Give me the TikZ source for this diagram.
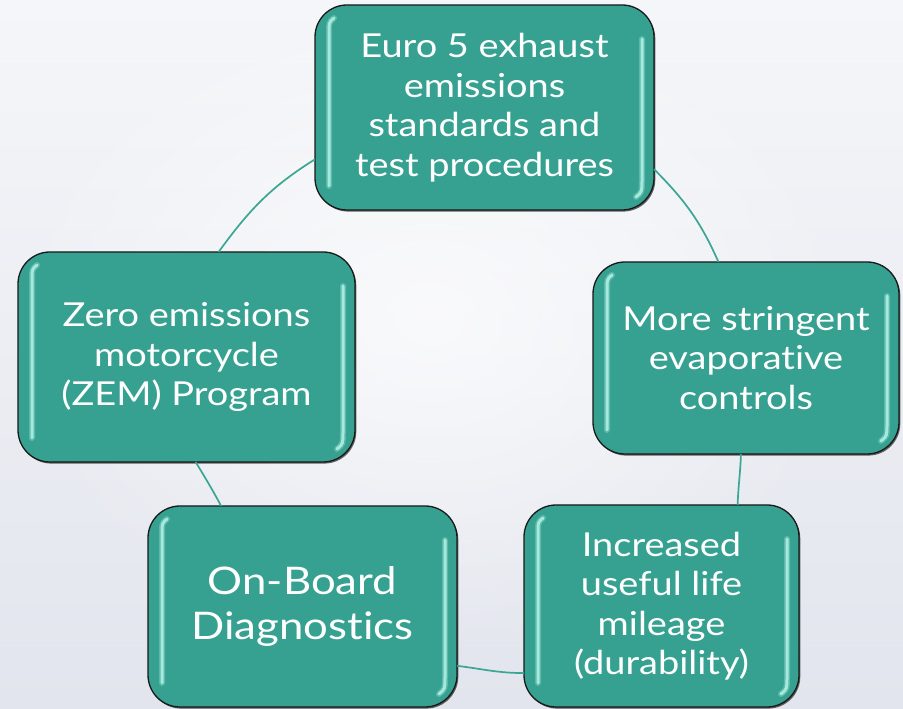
\documentclass[tikz,border=0pt]{standalone}
\usepackage{fontspec}
\setmainfont{Lato}[FakeStretch=1.15, Ligatures=NoCommon]
\usetikzlibrary{shadows,fadings}
\definecolor{tealbox}{RGB}{55,161,145}
\definecolor{ringline}{RGB}{58,166,148}
\definecolor{bgtop}{RGB}{245,246,249}
\definecolor{bgbot}{RGB}{226,229,237}
\definecolor{gloss}{RGB}{178,242,230}
\tikzfading[name=softglow, inner color=transparent!0, outer color=transparent!100]
\begin{document}
\begin{tikzpicture}[x=1pt,y=1pt,
  box/.style={rectangle, rounded corners=32pt, fill=tealbox, draw=black!90,
    line width=1.3pt, text=white, align=center, inner sep=0pt, outer sep=0pt,
    font=\fontsize{33}{39.5}\selectfont,
    drop shadow={shadow xshift=1.3pt, shadow yshift=-1.6pt, opacity=0.6, fill=black}},
  ring/.style={draw=ringline, line width=1.7pt},
  glossglow/.style={draw=gloss, line width=6pt, line cap=round, opacity=0.3},
  glossline/.style={draw=gloss, line width=3pt, line cap=round, opacity=0.85}]

% soft page background
\useasboundingbox (0,0) rectangle (903,709);
\shade[top color=bgtop, bottom color=bgbot] (0,0) rectangle (903,709);
\fill[white, path fading=softglow, opacity=0.7] (430,390) ellipse (430 and 330);

% the five stages of the cycle
\node[box, minimum width=339pt, minimum height=205pt] (euro) at (484.5,601.5)
  {Euro 5 exhaust\\emissions\\standards and\\test procedures};
\node[box, minimum width=306pt, minimum height=192pt] (evap) at (746,351)
  {More stringent\\evaporative\\controls};
\node[box, minimum width=275pt, minimum height=202pt] (life) at (661.5,103)
  {Increased\\useful life\\mileage\\(durability)};
\node[box, minimum width=309pt, minimum height=201pt,
  font=\fontsize{38}{45}\selectfont] (obd) at (302.5,102.5)
  {On-Board\\Diagnostics};
\node[box, minimum width=337pt, minimum height=210pt] (zem) at (186.5,352)
  {Zero emissions\\motorcycle\\(ZEM) Program};

% glossy edge highlights on every box
\foreach \n in {euro,evap,life,obd,zem}{
  \foreach \s in {glossglow,glossline}{
    \draw[\s] ([xshift=19pt,yshift=-13pt]\n.north west)
      .. controls ([xshift=14pt,yshift=-17pt]\n.north west) ..
      ([xshift=14pt,yshift=-30pt]\n.north west)
      -- ([xshift=14pt,yshift=24pt]\n.south west);
    \draw[\s] ([xshift=-12pt,yshift=-34pt]\n.north east)
      -- ([xshift=-12pt,yshift=30pt]\n.south east)
      .. controls ([xshift=-12pt,yshift=18pt]\n.south east) ..
      ([xshift=-18pt,yshift=13pt]\n.south east);
  }
}

% ring segments joining the stages
\draw[ring] (euro.340) to[out=-45, in=114] (evap.106);
\draw[ring] (evap.267) to[out=268, in=88] (life.53);
\draw[ring] (life.206) to[out=180, in=-7] (obd.339);
\draw[ring] (obd.129) to[out=118, in=-59] (zem.275);
\draw[ring] (zem.73) to[out=54, in=212] (euro.197);
\end{tikzpicture}
\end{document}
